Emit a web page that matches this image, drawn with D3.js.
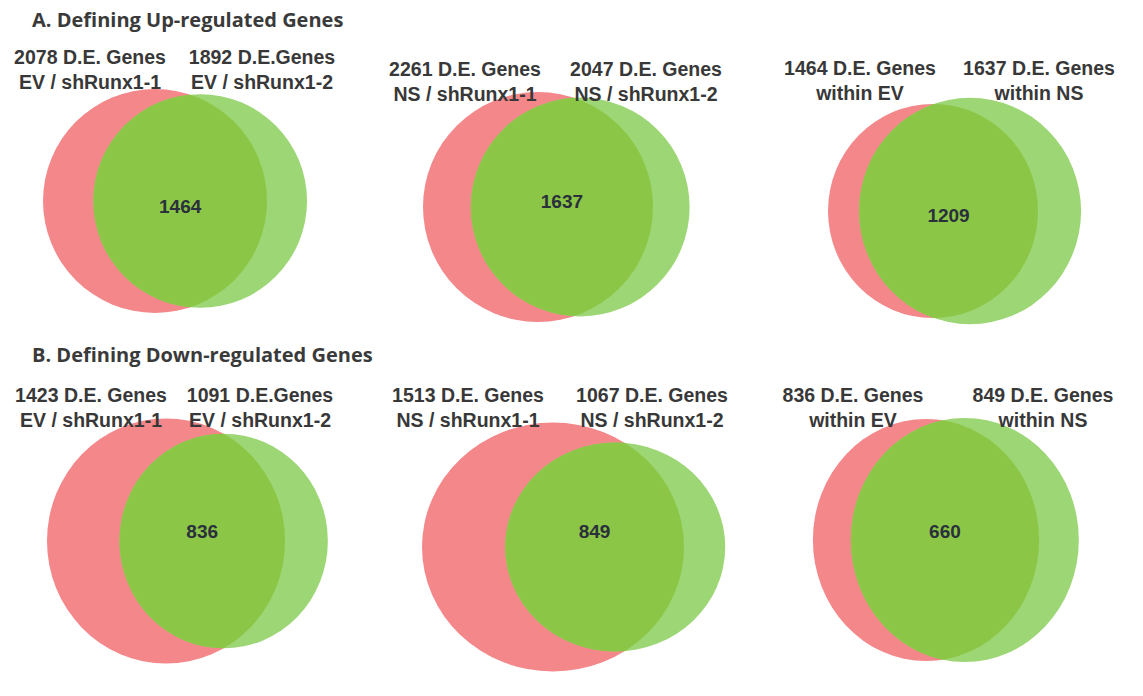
<!DOCTYPE html>
<html>
<head>
<meta charset="utf-8">
<script src="https://cdn.jsdelivr.net/npm/d3@7"></script>
<style>
  body { margin: 0; background: #fff; }
  svg { display: block; }
</style>
</head>
<body>
<svg id="venns"></svg>
<script>
var w = 1143;
var h = 696;

// data
var sectionTitles = ["A. Defining Up-regulated Genes", "B. Defining Down-regulated Genes"];
var leftCounts = [2078, 2261, 1464, 1423, 1513, 836];
var rightCounts = [1892, 2047, 1637, 1091, 1067, 849];
var overlapCounts = [1464, 1637, 1209, 836, 849, 660];
var leftHeads = ["2078 D.E. Genes", "2261 D.E. Genes", "1464 D.E. Genes", "1423 D.E. Genes", "1513 D.E. Genes", "836 D.E. Genes"];
var rightHeads = ["1892 D.E.Genes", "2047 D.E. Genes", "1637 D.E. Genes", "1091 D.E.Genes", "1067 D.E. Genes", "849 D.E. Genes"];
var leftNames = ["EV / shRunx1-1", "NS / shRunx1-1", "within EV", "EV / shRunx1-1", "NS / shRunx1-1", "within EV"];
var rightNames = ["EV / shRunx1-2", "NS / shRunx1-2", "within NS", "EV / shRunx1-2", "NS / shRunx1-2", "within NS"];

// layout: red centre, radius of bigger set, vertical stretch, label spots
var layout = [
  {cx: 155, cy: 201, rmax: 112, ky: 1.0, lx: 90, rx: 262, ty: 64, ny: 206},
  {cx: 538, cy: 207, rmax: 115, ky: 1.0, lx: 465, rx: 646, ty: 76, ny: 201},
  {cx: 933, cy: 211, rmax: 111, ky: 1.02, lx: 860, rx: 1039, ty: 75, ny: 215},
  {cx: 166, cy: 541, rmax: 119, ky: 1.03, lx: 91, rx: 260, ty: 402, ny: 531},
  {cx: 553, cy: 547, rmax: 131, ky: 0.95, lx: 468, rx: 652, ty: 402, ny: 531},
  {cx: 926, cy: 540, rmax: 114, ky: 1.07, lx: 853, rx: 1043, ty: 402, ny: 531}
];
var titleY = [27, 362];

var red = "#f3878a";
var greenOnly = "#9dd674";
var both = "#8cc646";

function lensArea(r1, r2, d) {
  if (d >= r1 + r2) return 0;
  if (d <= Math.abs(r1 - r2)) return Math.PI * Math.min(r1, r2) * Math.min(r1, r2);
  var a1 = r1 * r1 * Math.acos((d * d + r1 * r1 - r2 * r2) / (2 * d * r1));
  var a2 = r2 * r2 * Math.acos((d * d + r2 * r2 - r1 * r1) / (2 * d * r2));
  var k = 0.5 * Math.sqrt((-d + r1 + r2) * (d + r1 - r2) * (d - r1 + r2) * (d + r1 + r2));
  return a1 + a2 - k;
}

function findDistance(r1, r2, target) {
  var lo = Math.abs(r1 - r2), hi = r1 + r2;
  for (var i = 0; i < 60; i++) {
    var mid = (lo + hi) / 2;
    if (lensArea(r1, r2, mid) > target) lo = mid; else hi = mid;
  }
  return (lo + hi) / 2;
}

var svg = d3.select('#venns')
  .attr('width', w)
  .attr('height', h);

svg.append('rect').attr('width', w).attr('height', h).attr('fill', '#fff');

svg.selectAll('text.section')
  .data(sectionTitles)
.enter().append('text')
  .attr('class', 'section')
  .attr('x', 32)
  .attr('y', function (d, i) { return titleY[i]; })
  .attr('font-family', 'Open Sans, sans-serif')
  .attr('font-weight', 700)
  .attr('font-size', 20)
  .attr('fill', '#3a3a3a')
  .text(function (d) { return d; });

var defs = svg.append('defs');

var panels = svg.selectAll('g.panel')
  .data(d3.range(leftCounts.length))
.enter().append('g')
  .attr('class', 'panel')
  .each(function (i) {
    var g = d3.select(this);
    var L = layout[i];
    var r = d3.scaleSqrt()
      .domain([0, Math.max(leftCounts[i], rightCounts[i])])
      .range([0, L.rmax]);
    var r1 = r(leftCounts[i]);
    var r2 = r(rightCounts[i]);
    var ro = r(overlapCounts[i]);
    var dist = findDistance(r1, r2, Math.PI * ro * ro);
    var x = d3.scaleLinear().domain([0, 1]).range([L.cx, L.cx + dist]);

    defs.append('clipPath')
      .attr('id', 'clip' + i)
    .append('ellipse')
      .attr('cx', x(0))
      .attr('cy', L.cy)
      .attr('rx', r1)
      .attr('ry', r1 * L.ky);

    g.append('ellipse')
      .attr('cx', x(0))
      .attr('cy', L.cy)
      .attr('rx', r1)
      .attr('ry', r1 * L.ky)
      .attr('fill', red);

    g.append('ellipse')
      .attr('cx', x(1))
      .attr('cy', L.cy)
      .attr('rx', r2)
      .attr('ry', r2 * L.ky)
      .attr('fill', greenOnly);

    g.append('ellipse')
      .attr('clip-path', 'url(#clip' + i + ')')
      .attr('cx', x(1))
      .attr('cy', L.cy)
      .attr('rx', r2)
      .attr('ry', r2 * L.ky)
      .attr('fill', both);

    g.append('text')
      .attr('x', ((x(1) - r2) + (x(0) + r1)) / 2)
      .attr('y', L.ny)
      .attr('dy', '0.35em')
      .attr('text-anchor', 'middle')
      .attr('font-family', 'Liberation Sans, Arial, sans-serif')
      .attr('font-weight', 700)
      .attr('font-size', 19)
      .attr('fill', '#2a303c')
      .text(overlapCounts[i]);

    var labels = [
      {x: L.lx, lines: [leftHeads[i], leftNames[i]]},
      {x: L.rx, lines: [rightHeads[i], rightNames[i]]}
    ];
    labels.forEach(function (lab) {
      g.selectAll(null)
        .data(lab.lines)
      .enter().append('text')
        .attr('x', lab.x)
        .attr('y', function (d, j) { return L.ty + j * 25; })
        .attr('text-anchor', 'middle')
        .attr('font-family', 'Liberation Sans, Arial, sans-serif')
        .attr('font-weight', 700)
        .attr('font-size', 19.5)
        .attr('fill', '#383838')
        .text(function (d) { return d; });
    });
  });
</script>
</body>
</html>
